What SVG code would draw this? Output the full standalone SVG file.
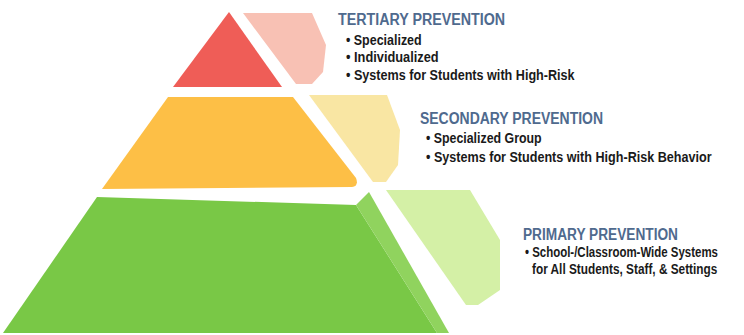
<svg xmlns="http://www.w3.org/2000/svg" width="744" height="335" viewBox="0 0 744 335">
<style>
.hd{font-family:"Liberation Sans",Arial,sans-serif;font-weight:bold;font-size:16px;fill:#4F6A8E}
.bd{font-family:"Liberation Sans",Arial,sans-serif;font-weight:bold;font-size:14.5px;fill:#1a1a1a}
</style>
<rect width="744" height="335" fill="#ffffff"/>
<g id="tier-tertiary">
<polygon points="229,12 282,87 173,87" fill="#EF5D57"/>
<polygon points="243,13 312,13 326,45 323,72 312,84 296,84" fill="#F8C1B4"/>
</g>
<g id="tier-secondary">
<path d="M168,97 L293,97 L356,178 Q359,186 352,187 L102,189 Z" fill="#FDBF46"/>
<polygon points="309,95 387,95 400,130 398,165 386,182 373,182" fill="#F9E6A3"/>
</g>
<g id="tier-primary">
<polygon points="97,197 356,205 437,333 3,333" fill="#79C846"/>
<polygon points="356,205 369,192 449,333 437,333" fill="#90D35E"/>
<polygon points="386,190 470,190 500,240 500,290 478,305 466,305" fill="#D4F0A6"/>
</g>
<g id="labels">
<text class="hd" x="338" y="25" textLength="167" lengthAdjust="spacingAndGlyphs">TERTIARY PREVENTION</text>
<text class="bd" transform="translate(346,45) scale(0.85,1)" textLength="89" lengthAdjust="spacingAndGlyphs">• Specialized</text>
<text class="bd" transform="translate(346,62) scale(0.85,1)" textLength="109" lengthAdjust="spacingAndGlyphs">• Individualized</text>
<text class="bd" transform="translate(346,80) scale(0.85,1)" textLength="269" lengthAdjust="spacingAndGlyphs">• Systems for Students with High-Risk</text>
<text class="hd" x="420" y="124" textLength="183" lengthAdjust="spacingAndGlyphs">SECONDARY PREVENTION</text>
<text class="bd" transform="translate(426,143) scale(0.85,1)" textLength="136" lengthAdjust="spacingAndGlyphs">• Specialized Group</text>
<text class="bd" transform="translate(426,162) scale(0.85,1)" textLength="336" lengthAdjust="spacingAndGlyphs">• Systems for Students with High-Risk Behavior</text>
<text class="hd" x="523" y="240" textLength="155" lengthAdjust="spacingAndGlyphs">PRIMARY PREVENTION</text>
<text class="bd" transform="translate(525,257) scale(0.85,1)" textLength="227" lengthAdjust="spacingAndGlyphs">• School-/Classroom-Wide Systems</text>
<text class="bd" transform="translate(532,274) scale(0.85,1)" textLength="218" lengthAdjust="spacingAndGlyphs">for All Students, Staff, &amp; Settings</text>
</g>
<g id="connectors"></g>
</svg>
